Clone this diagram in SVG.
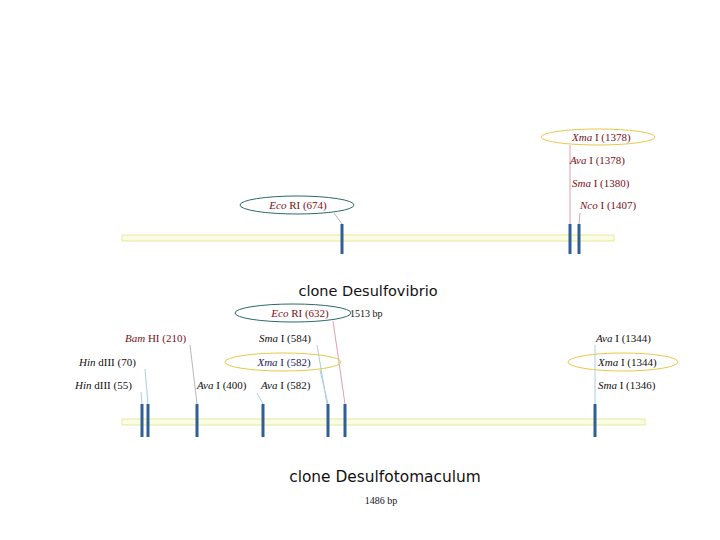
<svg xmlns="http://www.w3.org/2000/svg" width="720" height="540" viewBox="0 0 720 540">
<style>
.lbl{font-family:"Liberation Serif","Times New Roman",serif;font-size:11px;fill:#111}
.red{fill:#7a1020}
.navy{fill:#1a1a60}
.en{font-style:italic}
.title{font-family:"DejaVu Sans",Verdana,sans-serif;font-size:14.5px;fill:#111}
.bp{font-family:"Liberation Serif",serif;font-size:10px;fill:#111}
.band{fill:#fbfce4;stroke:#e4e99a;stroke-width:1}
.bar{stroke:#2f5f96;stroke-width:3}
.ye{fill:none;stroke:#e8c84a;stroke-width:1}
.te{fill:none;stroke:#2a6a6a;stroke-width:1}
.cb{stroke:#a9cde0;stroke-width:1;fill:none}
.cp{stroke:#e0a0b0;stroke-width:1;fill:none}
.cg{stroke:#b8b8b8;stroke-width:1;fill:none}
</style>
<rect width="720" height="540" fill="#fff"/>
<g id="connectors">
<line class="cg" x1="334" y1="213" x2="342" y2="224"/>
<line class="cp" x1="570" y1="145" x2="570" y2="224"/>
<line class="cp" x1="580" y1="213" x2="579" y2="224"/>
<line class="cb" x1="141" y1="392" x2="142" y2="404"/>
<line class="cb" x1="145" y1="369" x2="148" y2="404"/>
<line class="cg" x1="190" y1="345" x2="197" y2="404"/>
<line class="cb" x1="257" y1="393" x2="263" y2="404"/>
<line class="cb" x1="317" y1="345" x2="327" y2="404"/>
<line class="cb" x1="320" y1="370" x2="328" y2="404"/>
<line class="cp" x1="333" y1="321" x2="345" y2="404"/>
<line class="cb" x1="595" y1="345" x2="595" y2="404"/>
</g>
<g id="clone1">
<rect class="band" x="122" y="235" width="492" height="6"/>
<line class="bar" x1="342" y1="224" x2="342" y2="254"/>
<line class="bar" x1="570" y1="224" x2="570" y2="254"/>
<line class="bar" x1="579" y1="224" x2="579" y2="254"/>
<text class="title" x="368" y="296" text-anchor="middle">clone Desulfovibrio</text>
</g>
<g id="eco674">
<ellipse class="te" cx="297" cy="205" rx="57" ry="9"/>
<text class="lbl red" x="298" y="209" text-anchor="middle"><tspan class="en">Eco</tspan> RI (674)</text>
</g>
<g id="xma1378">
<ellipse class="ye" cx="598" cy="137" rx="57" ry="8"/>
<text class="lbl red" x="572" y="141"><tspan class="en">Xma</tspan> I (1378)</text>
</g>
<g id="ava1378"><text class="lbl red" x="570" y="164"><tspan class="en">Ava</tspan> I (1378)</text></g>
<g id="sma1380"><text class="lbl red" x="572" y="187"><tspan class="en">Sma</tspan> I (1380)</text></g>
<g id="nco1407"><text class="lbl red" x="580" y="209"><tspan class="en">Nco</tspan> I (1407)</text></g>
<g id="clone2">
<rect class="band" x="122" y="419" width="523" height="6"/>
<line class="bar" x1="142" y1="404" x2="142" y2="437"/>
<line class="bar" x1="148" y1="404" x2="148" y2="437"/>
<line class="bar" x1="197" y1="404" x2="197" y2="437"/>
<line class="bar" x1="263" y1="404" x2="263" y2="437"/>
<line class="bar" x1="328" y1="404" x2="328" y2="437"/>
<line class="bar" x1="345" y1="404" x2="345" y2="437"/>
<line class="bar" x1="595" y1="404" x2="595" y2="437"/>
<text class="title" x="385" y="482" text-anchor="middle" style="font-size:15.4px">clone Desulfotomaculum</text>
<text class="bp" x="381" y="504" text-anchor="middle">1486 bp</text>
</g>
<g id="hind55"><text class="lbl" x="75" y="389"><tspan class="en">Hin</tspan> dIII (55)</text></g>
<g id="hind70"><text class="lbl" x="79" y="366"><tspan class="en">Hin</tspan> dIII (70)</text></g>
<g id="bam210"><text class="lbl red" x="125" y="342"><tspan class="en">Bam</tspan> HI (210)</text></g>
<g id="ava400"><text class="lbl" x="197" y="389"><tspan class="en">Ava</tspan> I (400)</text></g>
<g id="ava582"><text class="lbl" x="261" y="389"><tspan class="en">Ava</tspan> I (582)</text></g>
<g id="xma582">
<ellipse class="ye" cx="283" cy="362" rx="58" ry="9"/>
<text class="lbl navy" x="284" y="366" text-anchor="middle"><tspan class="en">Xma</tspan> I (582)</text>
</g>
<g id="sma584"><text class="lbl" x="259" y="342"><tspan class="en">Sma</tspan> I (584)</text></g>
<g id="eco632">
<ellipse class="te" cx="293" cy="313" rx="58" ry="9"/>
<text class="lbl red" x="300" y="317" text-anchor="middle"><tspan class="en">Eco</tspan> RI (632)</text>
<text class="bp" x="350" y="317">1513 bp</text>
</g>
<g id="ava1344"><text class="lbl" x="596" y="342"><tspan class="en">Ava</tspan> I (1344)</text></g>
<g id="xma1344">
<ellipse class="ye" cx="623" cy="362" rx="55" ry="9"/>
<text class="lbl" x="598" y="366"><tspan class="en">Xma</tspan> I (1344)</text>
</g>
<g id="sma1346"><text class="lbl" x="598" y="389"><tspan class="en">Sma</tspan> I (1346)</text></g>
</svg>
